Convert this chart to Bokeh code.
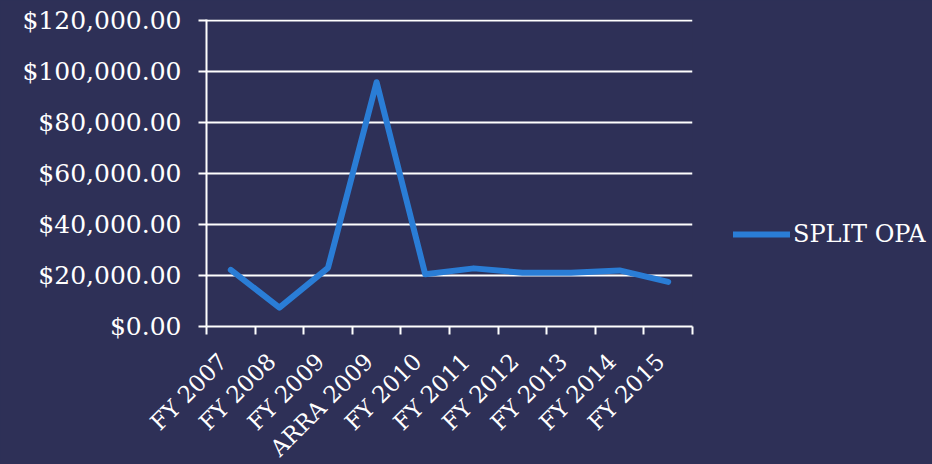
import math
from bokeh.plotting import figure
from bokeh.models import Range1d, FixedTicker, Legend, LegendItem, ColumnDataSource
from bokeh.embed import file_html
from bokeh.resources import INLINE

categories = ["FY 2007", "FY 2008", "FY 2009", "ARRA 2009", "FY 2010",
              "FY 2011", "FY 2012", "FY 2013", "FY 2014", "FY 2015"]
split_opa = [22200, 7400, 23000, 95800, 20500, 22800, 21100, 21100, 22000, 17500]
y_ticks = [0, 20000, 40000, 60000, 80000, 100000, 120000]
y_labels = ["$0.00", "$20,000.00", "$40,000.00", "$60,000.00",
            "$80,000.00", "$100,000.00", "$120,000.00"]
series_name = "SPLIT OPA"

BG = "#2e3057"
FONT = "DejaVu Serif"

xs = [i + 0.5 for i in range(len(categories))]
label_pos = [x - 0.16 for x in xs]   # nudge rotated labels so they end at the category centre
src = ColumnDataSource(dict(x=xs, y=split_opa))

p = figure(frame_width=486, frame_height=307,
           min_border_left=206, min_border_right=238,
           min_border_top=19, min_border_bottom=134,
           x_range=Range1d(0, len(categories)), y_range=Range1d(0, 120400),
           output_backend="svg", toolbar_location=None,
           background_fill_alpha=0, border_fill_color=BG)
p.outline_line_color = None

r = p.line("x", "y", source=src, line_color="#2a7dd6", line_width=6,
           line_cap="round", line_join="round")

# y axis
p.yaxis.ticker = FixedTicker(ticks=y_ticks, minor_ticks=[])
p.yaxis.major_label_overrides = {t: l for t, l in zip(y_ticks, y_labels)}
p.yaxis.axis_line_color = "white"
p.yaxis.axis_line_width = 2
p.yaxis.major_tick_line_color = "white"
p.yaxis.major_tick_line_width = 2
p.yaxis.major_tick_out = 8
p.yaxis.major_tick_in = 0
p.yaxis.minor_tick_line_color = None
p.yaxis.major_label_text_color = "white"
p.yaxis.major_label_text_font = FONT
p.yaxis.major_label_text_font_size = "25px"
p.yaxis.major_label_standoff = 17

# x axis: labels at category centres, ticks at category boundaries
p.xaxis.ticker = FixedTicker(ticks=label_pos, minor_ticks=list(range(len(categories) + 1)))
p.xaxis.major_label_overrides = {x: c for x, c in zip(label_pos, categories)}
p.xaxis.axis_line_color = "white"
p.xaxis.axis_line_width = 2
p.xaxis.major_tick_line_color = None
p.xaxis.major_tick_out = 0
p.xaxis.major_tick_in = 0
p.xaxis.minor_tick_line_color = "white"
p.xaxis.minor_tick_line_width = 2
p.xaxis.minor_tick_out = 8
p.xaxis.minor_tick_in = 0
p.xaxis.major_label_orientation = math.pi / 4
p.xaxis.major_label_text_color = "white"
p.xaxis.major_label_text_font = FONT
p.xaxis.major_label_text_font_size = "23px"
p.xaxis.major_label_standoff = 23

p.xgrid.grid_line_color = None
p.ygrid.ticker = FixedTicker(ticks=y_ticks)
p.ygrid.grid_line_color = "white"
p.ygrid.grid_line_width = 2

legend = Legend(items=[LegendItem(label=series_name, renderers=[r])],
                location=(41, 78), orientation="vertical",
                margin=0, padding=0, spacing=0,
                glyph_width=57, glyph_height=24, label_standoff=3,
                label_text_color="white", label_text_font=FONT,
                label_text_font_size="24px",
                border_line_color=None, background_fill_alpha=0)
p.add_layout(legend, "right")

html = file_html(p, INLINE)
style = "<style>html, body { background-color: %s !important; }</style>" % BG
html = html.replace("</head>", style + "\n</head>", 1)
open("out.html", "w").write(html)
